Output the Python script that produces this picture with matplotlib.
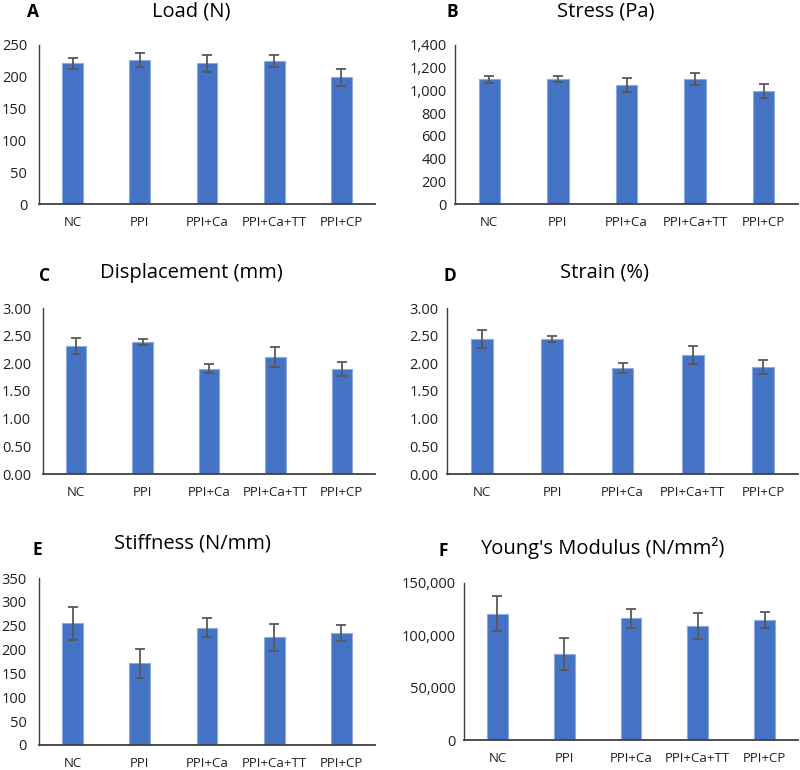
import matplotlib
matplotlib.use("Agg")
import matplotlib.pyplot as plt
from matplotlib.ticker import FuncFormatter

plt.rcParams['font.family'] = ['Open Sans', 'DejaVu Sans']

groups = ["NC", "PPI", "PPI+Ca", "PPI+Ca+TT", "PPI+CP"]

load = [221, 226, 221, 225, 199]
load_err = [9, 11, 14, 10, 13]
stress = [1099, 1100, 1046, 1100, 996]
stress_err = [30, 30, 63, 55, 62]
displacement = [2.31, 2.39, 1.90, 2.11, 1.90]
displacement_err = [0.14, 0.05, 0.08, 0.18, 0.12]
strain = [2.44, 2.44, 1.92, 2.15, 1.93]
strain_err = [0.16, 0.05, 0.09, 0.16, 0.13]
stiffness = [255, 171, 246, 226, 234]
stiffness_err = [34, 30, 20, 28, 17]
youngs = [120800, 82000, 116300, 108700, 114700]
youngs_err = [17000, 15500, 9000, 12500, 8000]

W, H = 800, 770
fig = plt.figure(figsize=(8, 7.7), dpi=100)

def px_axes(left, right, y0, ytop):
    return fig.add_axes([left / W, (H - y0) / H, (right - left) / W, (y0 - ytop) / H])

fmt_int = FuncFormatter(lambda v, p: f"{v:,.0f}")
fmt_2d = FuncFormatter(lambda v, p: f"{v:.2f}")

panels = [
    # letter, title, values, errors, ymax, step, formatter, axes box, letter pos, title pos, ytick pad
    ("A", "Load (N)", load, load_err, 250, 50, fmt_int, (39, 375, 204, 45), (33, 12), (191, 11), 8.5),
    ("B", "Stress (Pa)", stress, stress_err, 1400, 200, fmt_int, (455, 798, 204, 45), (452, 12), (606, 11), 6),
    ("C", "Displacement (mm)", displacement, displacement_err, 3.0, 0.5, fmt_2d, (43, 375, 474, 308), (45, 276), (191, 273), 8.5),
    ("D", "Strain (%)", strain, strain_err, 3.0, 0.5, fmt_2d, (447, 798, 474, 308), (450, 276), (605, 273), 6),
    ("E", "Stiffness (N/mm)", stiffness, stiffness_err, 350, 50, fmt_int, (39, 375, 745, 578), (37, 550), (192, 543), 9),
    ("F", "Young's Modulus (N/mm²)", youngs, youngs_err, 150000, 50000, fmt_int, (464, 798, 740, 583), (443, 551), (602, 548), 6),
]

for letter, title, vals, errs, ymax, step, fmt, box, lpos, tpos, ypad in panels:
    ax = px_axes(*box)
    x = range(len(groups))
    ax.bar(x, vals, width=0.31, color="#4472C4", edgecolor="#8FAADC", linewidth=0.8,
           yerr=errs, capsize=3.5,
           error_kw=dict(ecolor="#595959", elinewidth=1.3, capthick=1.3), zorder=2)
    ax.set_xlim(-0.5, len(groups) - 0.5)
    ax.set_ylim(0, ymax)
    ticks = [i * step for i in range(int(round(ymax / step)) + 1)]
    ax.set_yticks(ticks)
    ax.yaxis.set_major_formatter(fmt)
    ax.set_xticks(list(x))
    ax.set_xticklabels(groups)
    for s in ["top", "right"]:
        ax.spines[s].set_visible(False)
    ax.spines["left"].set_color("#404040")
    ax.spines["bottom"].set_color("#404040")
    ax.spines["left"].set_linewidth(1.0)
    ax.spines["bottom"].set_linewidth(1.3)
    ax.tick_params(axis="both", length=0, colors="#202020")
    ax.tick_params(axis="x", pad=8.5, labelsize=9.5)
    ax.tick_params(axis="y", pad=ypad, labelsize=10.5)
    fig.text(lpos[0] / W, 1 - lpos[1] / H, letter, fontsize=12.5, fontweight="bold",
             ha="center", va="center", color="black")
    fig.text(tpos[0] / W, 1 - tpos[1] / H, title, fontsize=14.5,
             ha="center", va="center", color="black")

fig.savefig("out.png", dpi=100)
